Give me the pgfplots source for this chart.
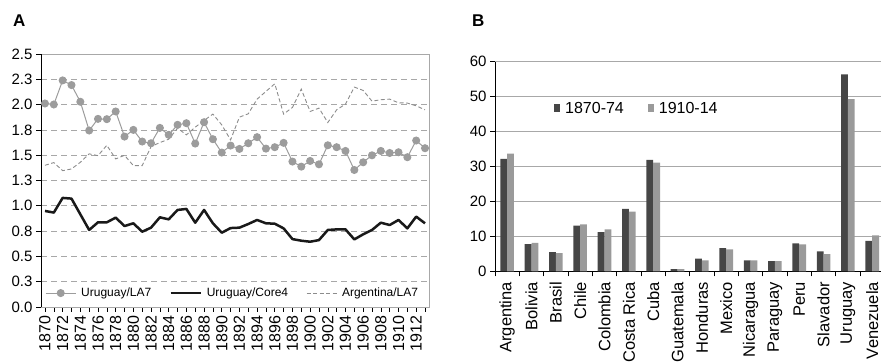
\documentclass[border=0pt]{standalone}
\usepackage{pgfplots}
\usepackage{pgfplotstable}
\pgfplotsset{compat=1.18}
\usepackage{fontspec}
\setmainfont{Liberation Sans}
\definecolor{dk}{HTML}{464646}
\definecolor{lt}{HTML}{9A9A9A}
\definecolor{ug}{HTML}{9C9C9C}
\definecolor{ag}{HTML}{8C8C8C}
\definecolor{gridc}{HTML}{A8A8A8}

\pgfplotstableread{
year ulA core arg
1870 2.011 0.949 1.400
1871 2.001 0.933 1.427
1872 2.239 1.078 1.347
1873 2.193 1.071 1.364
1874 2.028 0.916 1.430
1875 1.744 0.761 1.513
1876 1.859 0.837 1.496
1877 1.856 0.837 1.598
1878 1.932 0.883 1.463
1879 1.684 0.800 1.499
1880 1.750 0.827 1.397
1881 1.635 0.744 1.397
1882 1.618 0.784 1.585
1883 1.770 0.886 1.625
1884 1.701 0.866 1.658
1885 1.800 0.959 1.767
1886 1.816 0.969 1.701
1887 1.615 0.833 1.777
1888 1.826 0.959 1.843
1889 1.658 0.827 1.906
1890 1.526 0.734 1.800
1891 1.595 0.780 1.651
1892 1.562 0.784 1.876
1893 1.618 0.820 1.909
1894 1.678 0.860 2.054
1895 1.565 0.827 2.130
1896 1.579 0.823 2.206
1897 1.622 0.777 1.906
1898 1.437 0.671 1.972
1899 1.387 0.655 2.153
1900 1.443 0.645 1.932
1901 1.410 0.661 1.965
1902 1.598 0.761 1.823
1903 1.579 0.767 1.948
1904 1.542 0.767 2.005
1905 1.354 0.668 2.173
1906 1.430 0.718 2.140
1907 1.499 0.761 2.034
1908 1.542 0.833 2.048
1909 1.522 0.810 2.054
1910 1.529 0.860 2.018
1911 1.480 0.777 2.015
1912 1.645 0.893 1.988
1913 1.569 0.827 1.948
}\tabA

\pgfplotstableread{
idx a b
0 32.2 33.7
1 7.8 8.1
2 5.5 5.2
3 13.1 13.4
4 11.2 12.0
5 17.9 17.1
6 31.9 31.1
7 0.6 0.6
8 3.6 3.1
9 6.6 6.3
10 3.1 3.1
11 2.9 2.9
12 8.0 7.7
13 5.7 4.9
14 56.4 49.3
15 8.7 10.3
}\tabB

\begin{document}
\begin{tikzpicture}
\useasboundingbox (0pt,0pt) rectangle (881pt,363pt);
\node[font=\bfseries\fontsize{17}{19}\selectfont, anchor=base west, inner sep=0pt] at (13pt,336pt) {A};
\node[font=\bfseries\fontsize{17}{19}\selectfont, anchor=base west, inner sep=0pt] at (472pt,336pt) {B};

\begin{axis}[
  at={(41pt,56pt)}, anchor=south west, scale only axis,
  width=388pt, height=253pt,
  xmin=1869.55, xmax=1913.45, ymin=0, ymax=2.5,
  ytick={0,0.25,0.5,0.75,1,1.25,1.5,1.75,2,2.25,2.5},
  yticklabels={0.0,0.3,0.5,0.8,1.0,1.3,1.5,1.8,2.0,2.3,2.5},
  xtick={1870,1872,...,1912},
  minor xtick={1871,1873,...,1913},
  /pgf/number format/assume math mode=true,
  /pgf/number format/1000 sep={},
  xticklabel style={rotate=90, anchor=east, font=\fontsize{16}{16}\selectfont},
  yticklabel style={font=\fontsize{15}{15}\selectfont},
  tick align=outside,
  major tick length=5pt, minor tick length=5pt,
  tick style={black, line width=0.6pt},
  xtick pos=bottom, ytick pos=left,
  ymajorgrids,
  grid style={gridc, dash pattern=on 6pt off 4pt, line width=0.7pt},
  axis line style={draw=gridc, line width=0.7pt},
  legend style={at={(0.494,0.055)}, anchor=center, draw=none, fill=none,
    font=\fontsize{12}{14}\selectfont,
    /tikz/every odd column/.append style={column sep=3pt},
    /tikz/every even column/.append style={column sep=16pt}},
  legend columns=3,
  legend image code/.code={\draw[mark repeat=2,mark phase=2,#1] plot coordinates {(0pt,0pt) (15pt,0pt) (30pt,0pt)};},
]
\addplot[ug, line width=1pt, mark=*, mark size=3.5pt, mark options={fill=ug, draw=ug}] table[x=year,y=ulA] {\tabA};
\addlegendentry{Uruguay/LA7}
\addplot[black!90, line width=2.5pt, line join=round] table[x=year,y=core] {\tabA};
\addlegendentry{Uruguay/Core4}
\addplot[ag, line width=0.9pt, dash pattern=on 4pt off 2.5pt] table[x=year,y=arg] {\tabA};
\addlegendentry{Argentina/LA7}
\draw[black, line width=0.8pt] (rel axis cs:0,0) -- (rel axis cs:0,1);
\draw[black, line width=0.8pt] (rel axis cs:0,0) -- (rel axis cs:1,0);
\end{axis}

\begin{axis}[
  at={(495pt,91.7pt)}, anchor=south west, scale only axis,
  width=386pt, height=209.6pt,
  ymin=0, ymax=60, ytick={0,10,...,60},
  xmin=-0.5, xmax=15.36,
  enlargelimits=false,
  axis lines=left, axis line style={-, black, line width=0.8pt},
  xtick={0,...,15},
  xticklabels={Argentina,Bolivia,Brasil,Chile,Colombia,Costa Rica,Cuba,Guatemala,Honduras,Mexico,Nicaragua,Paraguay,Peru,Slavador,Uruguay,Venezuela},
  minor xtick={-0.5,0.5,...,15.5},
  major x tick style={draw=none},
  minor x tick style={black, line width=0.6pt},
  y tick style={black, line width=0.6pt},
  tick align=outside,
  major tick length=5pt, minor tick length=5pt,
  /pgf/number format/assume math mode=true,
  xticklabel shift=4.5pt,
  xticklabel style={rotate=90, anchor=east, font=\fontsize{16.5}{16.5}\selectfont, inner sep=1pt},
  yticklabel style={font=\fontsize{15}{15}\selectfont},
  ymajorgrids, grid style={gridc, line width=0.7pt},
  ybar=0pt, bar width=6.8pt,
  legend style={at={(0.145,0.778)}, anchor=west, draw=none, fill=none,
    font=\fontsize{16}{18}\selectfont,
    /tikz/every odd column/.append style={column sep=3pt},
    /tikz/every even column/.append style={column sep=22pt}},
  legend columns=2,
  legend image code/.code={\fill[#1] (0pt,-4pt) rectangle (6pt,4pt);},
]
\addplot[fill=dk, draw=none] table[x=idx,y=a] {\tabB};
\addlegendentry{1870-74}
\addplot[fill=lt, draw=none] table[x=idx,y=b] {\tabB};
\addlegendentry{1910-14}
\end{axis}
\end{tikzpicture}
\end{document}
